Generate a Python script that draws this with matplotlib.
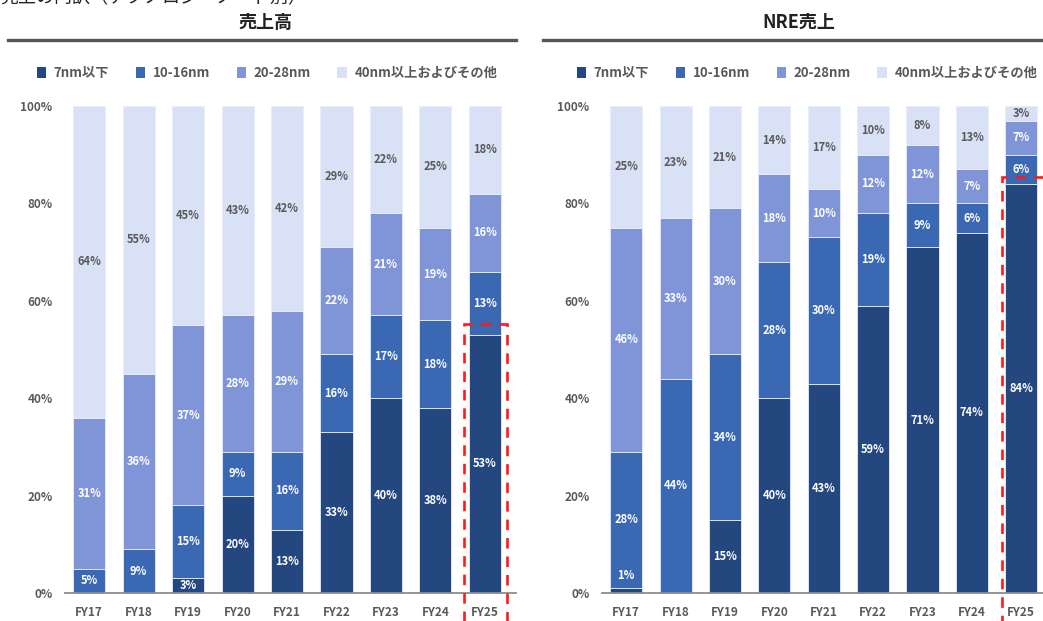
import numpy as np
import matplotlib
matplotlib.use("Agg")
import matplotlib.pyplot as plt
from matplotlib.patches import Rectangle, Patch

plt.rcParams['font.family'] = ['Noto Sans CJK JP', 'DejaVu Sans']

years = ['FY17', 'FY18', 'FY19', 'FY20', 'FY21', 'FY22', 'FY23', 'FY24', 'FY25']
series_names = ['7nm以下', '10-16nm', '20-28nm', '40nm以上およびその他']

# 売上高 (%)
sales_7nm = [0, 0, 3, 20, 13, 33, 40, 38, 53]
sales_10_16 = [5, 9, 15, 9, 16, 16, 17, 18, 13]
sales_20_28 = [31, 36, 37, 28, 29, 22, 21, 19, 16]
sales_40 = [64, 55, 45, 43, 42, 29, 22, 25, 18]

# NRE売上 (%)
nre_7nm = [1, 0, 15, 40, 43, 59, 71, 74, 84]
nre_10_16 = [28, 44, 34, 28, 30, 19, 9, 6, 6]
nre_20_28 = [46, 33, 30, 18, 10, 12, 12, 7, 7]
nre_40 = [25, 23, 21, 14, 17, 10, 8, 13, 3]

colors = ['#24477f', '#3a68b3', '#7f95d8', '#d8e1f5']
label_colors = ['white', 'white', 'white', '#595959']

fig = plt.figure(figsize = (10.43, 6.21), dpi = 100)

# heading cut off at the very top, as in the source
fig.text(0.0, 1 + 1.5 / 621, '売上の内訳（テクノロジーノード別）', fontsize = 13,
         ha = 'left', va = 'center', color = '#222222')


def draw_panel(ax, data, title, title_x, line_x0, line_x1, legend_x, box_x0, box_x1, box_top):
    x = np.arange(len(years))
    bottom = np.zeros(len(years))
    for vals, c, lc in zip(data, colors, label_colors):
        vals = np.array(vals, dtype = float)
        ax.bar(x, vals, bottom = bottom, width = 0.65, color = c,
               edgecolor = '#e8edf8', linewidth = 0.6)
        for xi, v, b in zip(x, vals, bottom):
            if v <= 0:
                continue
            y = b + v / 2
            if v < 2:
                y = b + v + 2.5
            ax.text(xi, y, f'{int(v)}%', ha = 'center', va = 'center',
                    fontsize = 8, fontweight = 'bold', color = lc)
        bottom = bottom + vals

    ax.set_ylim(0, 100)
    ax.set_xticks(x)
    ax.set_xticklabels(years)
    ax.set_yticks([0, 20, 40, 60, 80, 100])
    ax.set_yticklabels([f'{t}%' for t in [0, 20, 40, 60, 80, 100]])
    ax.tick_params(length = 0, labelsize = 8.5, colors = '#595959', pad = 9)
    for lab in ax.get_xticklabels() + ax.get_yticklabels():
        lab.set_fontweight('bold')
    for s in ['top', 'right', 'left']:
        ax.spines[s].set_visible(False)
    ax.spines['bottom'].set_color('#8c8c8c')
    ax.spines['bottom'].set_linewidth(1.3)

    # highlighted FY25
    ax.add_patch(Rectangle((box_x0, -8), box_x1 - box_x0, box_top + 8, fill = False,
                           edgecolor = '#ff1a1a', linewidth = 1.9, linestyle = (0, (4, 3)),
                           clip_on = False, zorder = 5))

    # panel heading and rule
    fig.text(title_x / 1043, 1 - 22 / 621, title, fontsize = 13, fontweight = 'bold',
             ha = 'center', va = 'center', color = '#222222')
    fig.add_artist(plt.Line2D([line_x0 / 1043, line_x1 / 1043], [1 - 39.5 / 621] * 2,
                              color = '#555555', linewidth = 2.4))

    handles = [Patch(facecolor = c) for c in colors]
    fig.legend(handles, series_names, loc = 'center', ncol = 4,
               bbox_to_anchor = (legend_x / 1043, 1 - 73 / 621), frameon = False,
               handlelength = 0.7, handleheight = 1.0,
               handletextpad = 0.6, columnspacing = 2.0, labelcolor = '#595959',
               prop = {'weight': 'bold', 'size': 9.5})


ax1 = fig.add_axes([65 / 1043, 28 / 621, 451 / 1043, 487 / 621])
draw_panel(ax1, [sales_7nm, sales_10_16, sales_20_28, sales_40], '売上高', 265, 8, 516, 267,
           7.57, 8.44, 55.2)
ax1.set_xlim(-0.49, 8.63)

ax2 = fig.add_axes([602 / 1043, 28 / 621, 441 / 1043, 487 / 621])
draw_panel(ax2, [nre_7nm, nre_10_16, nre_20_28, nre_40], 'NRE売上', 799, 543, 1043, 807,
           7.61, 8.47, 85.4)
ax2.set_xlim(-0.49, 8.44)

fig.savefig('out.png', dpi = 100)
